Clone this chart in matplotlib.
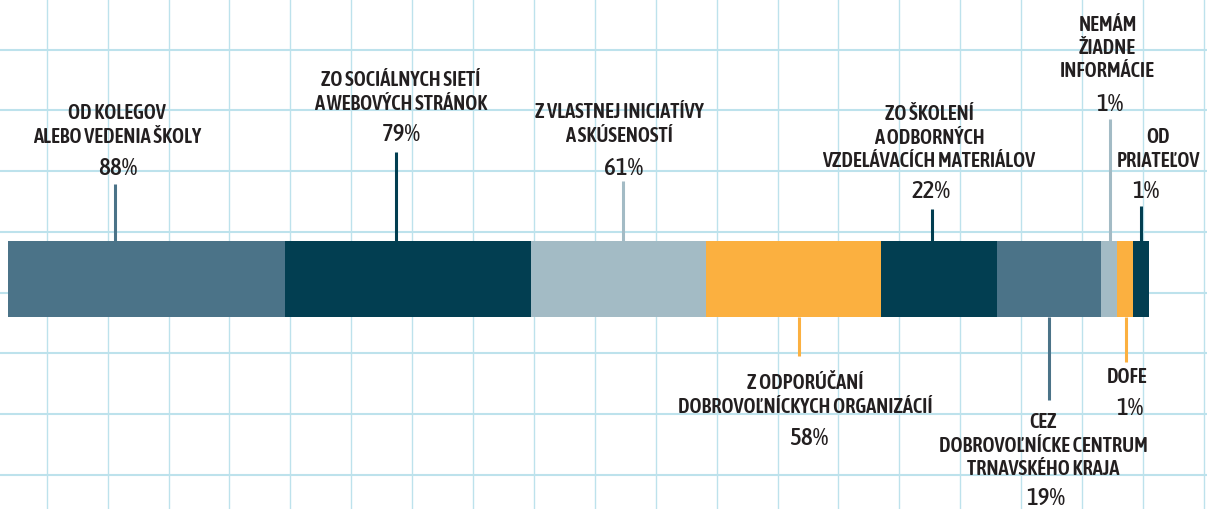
import numpy as np
import matplotlib
matplotlib.use("Agg")
import matplotlib.pyplot as plt

# data
labels = [
    ["OD KOLEGOV", "ALEBO VEDENIA ŠKOLY"],
    ["ZO SOCIÁLNYCH SIETÍ", "A WEBOVÝCH STRÁNOK"],
    ["Z VLASTNEJ INICIATÍVY", "A SKÚSENOSTÍ"],
    ["Z ODPORÚČANÍ", "DOBROVOĽNÍCKYCH ORGANIZÁCIÍ"],
    ["ZO ŠKOLENÍ", "A ODBORNÝCH", "VZDELÁVACÍCH MATERIÁLOV"],
    ["CEZ", "DOBROVOĽNÍCKE CENTRUM", "TRNAVSKÉHO KRAJA"],
    ["NEMÁM", "ŽIADNE", "INFORMÁCIE"],
    ["DOFE"],
    ["OD", "PRIATEĽOV"],
]
percent = [88, 79, 61, 58, 22, 19, 1, 1, 1]
# length of each segment as drawn (share of the whole bar)
share = [24.3, 21.5, 15.4, 15.3, 10.2, 9.1, 1.4, 1.4, 1.4]

# styles / layout
c_mid = "#4b7388"
c_dark = "#023e51"
c_light = "#a3bbc5"
c_orange = "#fbb040"
colors = [c_mid, c_dark, c_light, c_orange, c_dark, c_mid, c_light, c_orange, c_dark]
text_col = "#231f20"
grid_col = "#bde2ec"

W, H = 1207, 510
bar_left, bar_right = 8, 1149
bar_top, bar_bot = 242, 318
ppu = (bar_right - bar_left) / 100.0


def px(x):
    return (x - bar_left) / ppu


# leader x, leader end y, label x, first line y, percent x, percent y (pixels)
layout = [
    (114.5, 185, 117, 112, 117.5, 166.7),
    (396, 153, 401, 79, 401, 132.5),
    (622.7, 182, 619, 111, 624, 166.7),
    (798.6, 356.7, 805, 382, 809, 436.7),
    (932.3, 210, 929, 113, 931, 189.5),
    (1049, 400.7, 1043, 421, 1046, 496.7),
    (1110, 120, 1107.5, 23.5, 1110, 102),
    (1125.7, 363, 1127, 376, 1130, 406.7),
    (1141, 207, 1158, 136, 1145.5, 189.5),
]
line_step = 23.3
font = ["Asap Condensed", "DejaVu Sans"]

fig = plt.figure(figsize=(W / 100, H / 100), dpi=100)
ax = fig.add_axes([0, 0, 1, 1])
ax.set_xlim(px(0), px(W))
ax.set_ylim(H, 0)
ax.axis("off")

# background grid
for gx in np.arange(46.7, W, 60.9):
    ax.axvline(px(gx), color=grid_col, lw=1.0, zorder=0)
for gy in np.arange(50.7, H, 60.7):
    ax.axhline(gy, color=grid_col, lw=1.5, zorder=0)

left = np.concatenate([[0], np.cumsum(share)[:-1]])
ax.barh((bar_top + bar_bot) / 2, share, left=left, height=bar_bot - bar_top,
        color=colors, zorder=2)

for i, (lx, ly, tx, ty, pxx, pyy) in enumerate(layout):
    y0 = bar_top if ly < bar_top else bar_bot
    ax.plot([px(lx), px(lx)], [y0, ly], color=colors[i], lw=2.2,
            solid_capstyle="butt", zorder=2)
    for k, line in enumerate(labels[i]):
        ax.text(px(tx), ty + k * line_step + 7.3, line, ha="center", va="baseline",
                fontsize=14.8, fontweight=600, color=text_col, family=font,
                zorder=3)
    ax.text(px(pxx), pyy + 8.6, f"{percent[i]}%", ha="center", va="baseline",
            fontsize=18, fontweight=500, color=text_col, family=font, zorder=3)

fig.savefig("out.png", dpi=100)
